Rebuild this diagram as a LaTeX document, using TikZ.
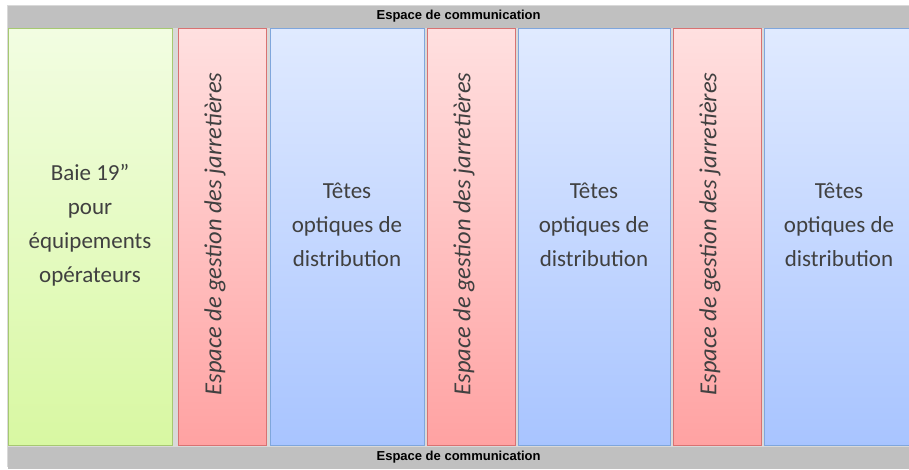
\documentclass[tikz,border=0pt]{standalone}
\usepackage{fontspec}
\setmainfont{Carlito}
\newfontfamily\barfont{Liberation Sans}
\usepackage{tikz}
\usetikzlibrary{backgrounds,positioning}
\usepackage{xcolor}

\definecolor{baietop}{HTML}{F2FDE2}
\definecolor{baiebot}{HTML}{D8F8A2}
\definecolor{baieline}{HTML}{A6C872}
\definecolor{jartop}{HTML}{FFE0E0}
\definecolor{jarbot}{HTML}{FFA2A2}
\definecolor{jarline}{HTML}{D87272}
\definecolor{tetetop}{HTML}{E0EAFF}
\definecolor{tetebot}{HTML}{A8C4FF}
\definecolor{teteline}{HTML}{7FA6DC}
\definecolor{barfill}{HTML}{C0C0C0}
\definecolor{backfill}{HTML}{D9D9D9}
\definecolor{txt}{HTML}{404040}

\begin{document}
\begin{tikzpicture}[x=1pt,y=-1pt]
      \useasboundingbox (0,0) rectangle (909,469);
      \tikzstyle{every node}=[rectangle,inner sep=0pt,anchor=north west,line width=1.2pt]
      \tikzstyle{baie}=[top color=baietop,bottom color=baiebot,draw=baieline,minimum height=417pt]
      \tikzstyle{jar}=[top color=jartop,bottom color=jarbot,draw=jarline,minimum height=417pt,minimum width=88pt]
      \tikzstyle{tete}=[top color=tetetop,bottom color=tetebot,draw=teteline,minimum height=417pt]
      \tikzstyle{bar}=[fill=barfill,minimum width=902pt,minimum height=22pt,font=\barfont\bfseries\fontsize{13}{15}\selectfont]
      \tikzstyle{texte}=[anchor=center,align=center,text=txt,font=\fontsize{23}{34}\selectfont]
      \tikzstyle{vtexte}=[anchor=center,rotate=90,text=txt,font=\itshape\fontsize{24.5}{28}\selectfont]

      \fill[backfill] (7,5) rectangle (909,467);
      \node[bar] (haut) at (7,5)   {Espace de communication};
      \node[bar] (bas)  at (7,446) {Espace de communication};

      \node[baie,minimum width=164pt] (b1) at (8,28)   {};
      \node[jar]                      (j1) at (178,28) {};
      \node[tete,minimum width=154pt] (t1) at (270,28) {};
      \node[jar]                      (j2) at (427,28) {};
      \node[tete,minimum width=152pt] (t2) at (518,28) {};
      \node[jar]                      (j3) at (673,28) {};
      \node[tete,minimum width=146pt] (t3) at (764,28) {};

      \node[texte]  (lb1) at (90,225)  {Baie 19''\\pour\\équipements\\opérateurs};
      \node[vtexte] (lj1) at (215,234) {Espace de gestion des jarretières};
      \node[texte]  (lt1) at (347,225) {Têtes\\optiques de\\distribution};
      \node[vtexte] (lj2) at (464,234) {Espace de gestion des jarretières};
      \node[texte]  (lt2) at (594,225) {Têtes\\optiques de\\distribution};
      \node[vtexte] (lj3) at (710,234) {Espace de gestion des jarretières};
      \node[texte]  (lt3) at (839,225) {Têtes\\optiques de\\distribution};
    \end{tikzpicture}
\end{document}
